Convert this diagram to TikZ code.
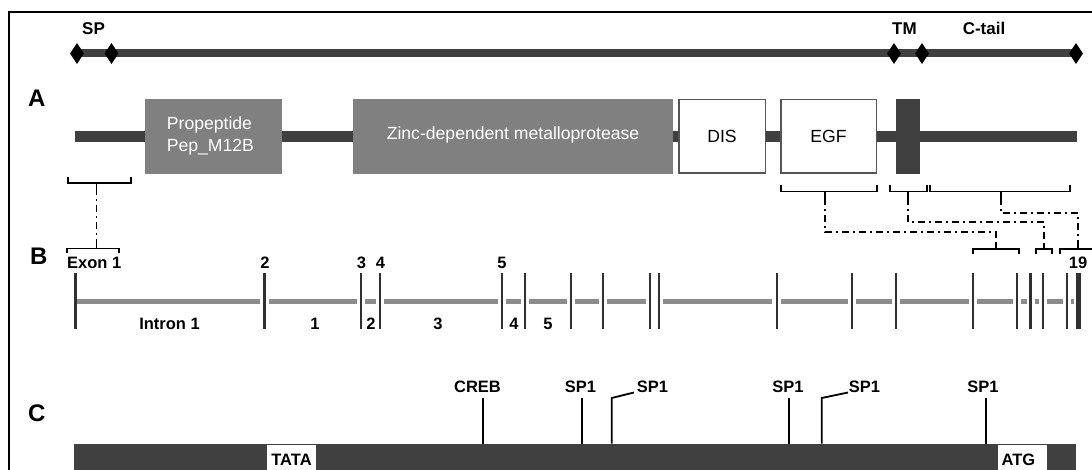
\documentclass[tikz,border=0pt]{standalone}
\usepackage{fontspec}
\setmainfont{Liberation Sans}
\usetikzlibrary{shapes.geometric}
\definecolor{dark}{HTML}{404040}
\definecolor{midgray}{HTML}{808080}
\definecolor{introngray}{HTML}{8C8C8C}
\definecolor{exonline}{HTML}{303030}
\definecolor{boxborder}{HTML}{555555}
\begin{document}
\begin{tikzpicture}[x=1pt,y=-1pt,
 lbl/.style={font=\bfseries\fontsize{16.5}{19}\selectfont, inner sep=0pt, anchor=base},
 toplbl/.style={font=\bfseries\fontsize{17}{20}\selectfont, inner sep=0pt, anchor=base},
 panel/.style={font=\bfseries\fontsize{24}{28}\selectfont, inner sep=0pt, anchor=base west},
 dtext/.style={font=\fontsize{17.6}{21.5}\selectfont, inner sep=0pt},
 dia/.style={diamond, fill=black, inner sep=0pt, minimum width=14pt, minimum height=21pt, aspect=0.67},
 graybox/.style={fill=midgray, inner sep=0pt, minimum height=75pt},
 whitebox/.style={fill=white, draw=boxborder, line width=1.5pt, inner sep=0pt, minimum height=73.5pt},
 brk/.style={black, line width=1.7pt},
 dd/.style={black, line width=1.8pt, dash pattern=on 7pt off 4pt on 2pt off 4pt},
 exon/.style={exonline, line width=2.6pt},
 intron/.style={introngray, line width=5pt},
 mk/.style={black, line width=1.8pt},
 cbox/.style={inner sep=0pt, anchor=north west},
]
\useasboundingbox (0,0) rectangle (1092,470);
% frame (cropped)
\draw[line width=2.2pt] (9,475) -- (9,12) -- (1097,12);

% ---------- top line with diamonds ----------
\coordinate (c1) at (77,53.5);
\coordinate (c2) at (111.5,53.5);
\coordinate (c3) at (894,53.5);
\coordinate (c4) at (922,53.5);
\coordinate (c5) at (1076,53.5);
\draw[dark, line width=8pt] (c1) -- (c5);
\node[dia] (d1) at (c1) {};
\node[dia] (d2) at (c2) {};
\node[dia] (d3) at (c3) {};
\node[dia] (d4) at (c4) {};
\node[dia] (d5) at (c5) {};
\node[toplbl] (sp) at (93.5,35) {SP};
\node[toplbl] (tm) at (904.5,35) {TM};
\node[toplbl] (ctail) at (984,35) {C-tail};

% ---------- panel labels ----------
\node[panel] (pA) at (28,107) {A};
\node[panel] (pB) at (30,265) {B};
\node[panel] (pC) at (28,421) {C};

% ---------- row A ----------
\coordinate (a0) at (75,137);
\coordinate (a1) at (1077,137);
\draw[dark, line width=11pt] (a0) -- (a1);
\node[graybox, minimum width=137pt] (prop) at (213.3,136.5) {};
\node[dtext, text=white, anchor=base west] (proptxt1) at (166.7,130) {Propeptide};
\node[dtext, text=white, anchor=base west] (proptxt2) at (166.7,151.7) {Pep\_M12B};
\node[graybox, minimum width=320.3pt] (zinc) at (512.85,136.5) {};
\node[dtext, text=white, anchor=base] (zinctxt) at (513,140) {Zinc-dependent metalloprotease};
\node[whitebox, minimum width=86.5pt] (dis) at (722,136.5) {};
\node[dtext, anchor=base] (distxt) at (722,143) {DIS};
\node[whitebox, minimum width=95.5pt] (egf) at (828.5,136.5) {};
\node[dtext, anchor=base] (egftxt) at (828.5,143) {EGF};
\node[fill=dark, inner sep=0pt, minimum width=24pt, minimum height=75pt] (tmbox) at (908,136.5) {};

% ---------- brackets under A ----------
\draw[brk] (68,177) -- (68,183) -- (131,183) -- (131,177);
\draw[brk] (96.5,183) -- (96.5,188) coordinate (m0);
\draw[brk] (781,185) -- (781,191.5) -- (877,191.5) -- (877,185);
\draw[brk] (825,191.5) -- (825,198) coordinate (m1);
\draw[brk] (890,185) -- (890,191.5) -- (927,191.5) -- (927,185);
\draw[brk] (908,191.5) -- (908,198) coordinate (m2);
\draw[brk] (930,185) -- (930,191.5) -- (1070,191.5) -- (1070,185);
\draw[brk] (1001,191.5) -- (1001,198) coordinate (m3);

% ---------- brackets above B ----------
\draw[brk] (67,253) -- (67,248.5) -- (119,248.5) -- (119,253);
\draw[brk] (96.5,248.5) -- (96.5,244) coordinate (n0);
\draw[brk] (973,254) -- (973,249) -- (1019,249) -- (1019,254);
\draw[brk] (996,249) -- (996,243) coordinate (n1);
\draw[brk] (1036,254) -- (1036,249) -- (1052,249) -- (1052,254);
\draw[brk] (1044,249) -- (1044,244) coordinate (n2);
\draw[brk] (1060,254) -- (1060,249) -- (1100,249);
\draw[brk] (1078,249) -- (1078,244) coordinate (n3);

% ---------- dash-dot connectors ----------
\draw[dd] (m0) -- (n0);
\draw[dd] (m1) -- ++(0,34) -| (n1);
\draw[dd] (m2) -- ++(0,24) -| (n2);
\draw[dd] (m3) -- ++(0,15) -| (n3);

% ---------- row B ----------
\foreach \a/\b in {76/260, 269/357, 365/376, 384/498, 506/521, 529/567, 575/599,
  607/646, 663/772, 781/848, 856/892, 900/969, 977/1013, 1021/1026.5,
  1034.5/1039, 1047/1063, 1070.5/1074}
  \draw[intron] (\a,301.5) -- (\b,301.5);
\foreach \x in {75.5, 264.5, 361, 380, 502, 525, 571, 603, 650, 659, 777, 852, 896,
  973, 1017, 1030.5, 1043, 1067}
  \draw[exon] (\x,273) -- (\x,329);
\draw[exonline, line width=5pt] (1078,273) -- (1078,329);

\node[lbl, anchor=base west] (ex1) at (67,269) {Exon 1};
\node[lbl] (ex2) at (265,269) {2};
\node[lbl] (ex3) at (361.5,269) {3};
\node[lbl] (ex4) at (380.5,269) {4};
\node[lbl] (ex5) at (502,269) {5};
\node[lbl] (ex19) at (1078,269) {19};
\node[lbl] (in1) at (169.5,329) {Intron 1};
\node[lbl] (in2) at (315,329) {1};
\node[lbl] (in3) at (371,329) {2};
\node[lbl] (in4) at (438,329) {3};
\node[lbl] (in5) at (514,329) {4};
\node[lbl] (in6) at (548,329) {5};

% ---------- row C ----------
\node[cbox, fill=dark, minimum width=1002pt, minimum height=32pt] (cbar) at (74,443.5) {};
\node[cbox, fill=white, minimum width=49pt, minimum height=30pt] (tatabox) at (267,445) {};
\node[lbl] (tata) at (291.5,465) {TATA};
\node[cbox, fill=white, minimum width=49pt, minimum height=30pt] (atgbox) at (998,445) {};
\node[lbl] (atg) at (1018.5,465) {ATG};

\node[lbl] (creb) at (477.5,392) {CREB};
\node[lbl] (spa) at (580.5,392) {SP1};
\node[lbl] (spb) at (652.5,392) {SP1};
\node[lbl] (spc) at (788,392) {SP1};
\node[lbl] (spd) at (864.5,392) {SP1};
\node[lbl] (spe) at (983,392) {SP1};

\draw[mk] (483.3,443.5) -- (483.3,397.5);
\draw[mk] (581.7,443.5) -- (581.7,397.5);
\draw[mk] (611.7,443.5) -- (611.7,398) -- (634,392.5);
\draw[mk] (789,443.5) -- (789,397.5);
\draw[mk] (821.7,443.5) -- (821.7,398) -- (848,392.5);
\draw[mk] (986,443.5) -- (986,397.5);
\end{tikzpicture}
\end{document}
